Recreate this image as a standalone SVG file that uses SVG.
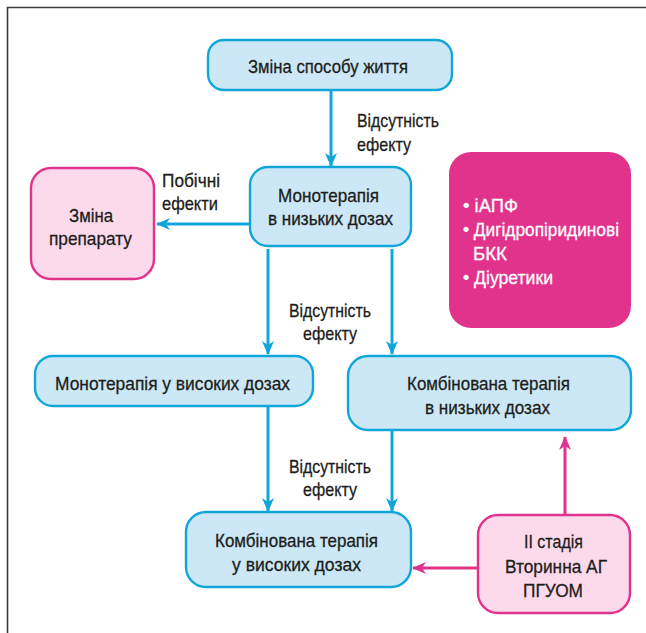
<svg xmlns="http://www.w3.org/2000/svg" width="646" height="633" viewBox="0 0 646 633">
<defs>
<style>
.frame{fill:none;stroke:#3c3c3c;stroke-width:1.6}
.bn{fill:#cce8f6;stroke:#10a6da;stroke-width:2.4}
.pn{fill:#fcd9eb;stroke:#e0338c;stroke-width:2.4}
.mn{fill:#e2338c;stroke:none}
text{font-family:"Liberation Sans",Arimo,Arial,sans-serif;font-size:19px;fill:#1d1d1b;stroke:#1d1d1b;stroke-width:0.3}
.w{fill:#ffffff;stroke:#ffffff}
.ba{fill:none;stroke:#10a6da;stroke-width:3}
.pa{fill:none;stroke:#e0338c;stroke-width:3}
</style>
<marker id="ab" viewBox="0 0 14 12" refX="13" refY="6" markerWidth="14" markerHeight="12" markerUnits="userSpaceOnUse" orient="auto">
<path d="M0,0 L14,6 L0,12 L4,6 Z" fill="#10a6da"/>
</marker>
<marker id="ap" viewBox="0 0 14 12" refX="13" refY="6" markerWidth="14" markerHeight="12" markerUnits="userSpaceOnUse" orient="auto">
<path d="M0,0 L14,6 L0,12 L4,6 Z" fill="#e0338c"/>
</marker>
</defs>
<rect width="646" height="633" fill="#ffffff"/>
<path class="frame" d="M7.5,633 V7.5 H646"/>

<g id="connectors">
<path class="ba" d="M331,90 V166" marker-end="url(#ab)"/>
<path class="ba" d="M250,224 H157" marker-end="url(#ab)"/>
<path class="ba" d="M268,249 V354" marker-end="url(#ab)"/>
<path class="ba" d="M392,249 V354" marker-end="url(#ab)"/>
<path class="ba" d="M268,406 V511" marker-end="url(#ab)"/>
<path class="ba" d="M392,430 V511" marker-end="url(#ab)"/>
<path class="pa" d="M478,568 H413" marker-end="url(#ap)"/>
<path class="pa" d="M565,515 V437" marker-end="url(#ap)"/>
<text x="357" y="127" textLength="82" lengthAdjust="spacingAndGlyphs">Відсутність</text>
<text x="357" y="151" textLength="54" lengthAdjust="spacingAndGlyphs">ефекту</text>
<text x="162" y="187" textLength="58" lengthAdjust="spacingAndGlyphs">Побічні</text>
<text x="162" y="210" textLength="56" lengthAdjust="spacingAndGlyphs">ефекти</text>
<text x="289" y="317" textLength="82" lengthAdjust="spacingAndGlyphs">Відсутність</text>
<text x="303" y="340" textLength="54" lengthAdjust="spacingAndGlyphs">ефекту</text>
<text x="289" y="473" textLength="82" lengthAdjust="spacingAndGlyphs">Відсутність</text>
<text x="303" y="496" textLength="54" lengthAdjust="spacingAndGlyphs">ефекту</text>
</g>

<g id="n-lifestyle">
<rect class="bn" x="208" y="40" width="244" height="50" rx="16"/>
<text x="248" y="73" textLength="160" lengthAdjust="spacingAndGlyphs">Зміна способу життя</text>
</g>

<g id="n-mono-low">
<rect class="bn" x="250" y="167" width="161" height="79" rx="18"/>
<text x="278" y="202" textLength="101" lengthAdjust="spacingAndGlyphs">Монотерапія</text>
<text x="268" y="225" textLength="125" lengthAdjust="spacingAndGlyphs">в низьких дозах</text>
</g>

<g id="n-change">
<rect class="pn" x="31" y="168" width="123" height="111" rx="20"/>
<text x="69" y="222" textLength="44" lengthAdjust="spacingAndGlyphs">Зміна</text>
<text x="49" y="245" textLength="83" lengthAdjust="spacingAndGlyphs">препарату</text>
</g>

<g id="n-drugs">
<rect class="mn" x="449" y="152" width="182" height="176" rx="22"/>
<text class="w" x="463" y="212" textLength="55" lengthAdjust="spacingAndGlyphs">• іАПФ</text>
<text class="w" x="463" y="236" textLength="156" lengthAdjust="spacingAndGlyphs">• Дигідропіридинові</text>
<text class="w" x="473" y="260" textLength="34" lengthAdjust="spacingAndGlyphs">БКК</text>
<text class="w" x="463" y="284" textLength="90" lengthAdjust="spacingAndGlyphs">• Діуретики</text>
</g>

<g id="n-mono-high">
<rect class="bn" x="35" y="356" width="278" height="50" rx="18"/>
<text x="55" y="390" textLength="235" lengthAdjust="spacingAndGlyphs">Монотерапія у високих дозах</text>
</g>

<g id="n-comb-low">
<rect class="bn" x="348" y="356" width="283" height="74" rx="20"/>
<text x="407" y="390" textLength="163" lengthAdjust="spacingAndGlyphs">Комбінована терапія</text>
<text x="425" y="414" textLength="125" lengthAdjust="spacingAndGlyphs">в низьких дозах</text>
</g>

<g id="n-comb-high">
<rect class="bn" x="186" y="512" width="225" height="75" rx="20"/>
<text x="215" y="547" textLength="163" lengthAdjust="spacingAndGlyphs">Комбінована терапія</text>
<text x="232" y="571" textLength="129" lengthAdjust="spacingAndGlyphs">у високих дозах</text>
</g>

<g id="n-stage">
<rect class="pn" x="478" y="515" width="152" height="98" rx="20"/>
<text x="524" y="548" textLength="59" lengthAdjust="spacingAndGlyphs">ІІ стадія</text>
<text x="505" y="573" textLength="102" lengthAdjust="spacingAndGlyphs">Вторинна АГ</text>
<text x="523" y="597" textLength="60" lengthAdjust="spacingAndGlyphs">ПГУОМ</text>
</g>
</svg>
